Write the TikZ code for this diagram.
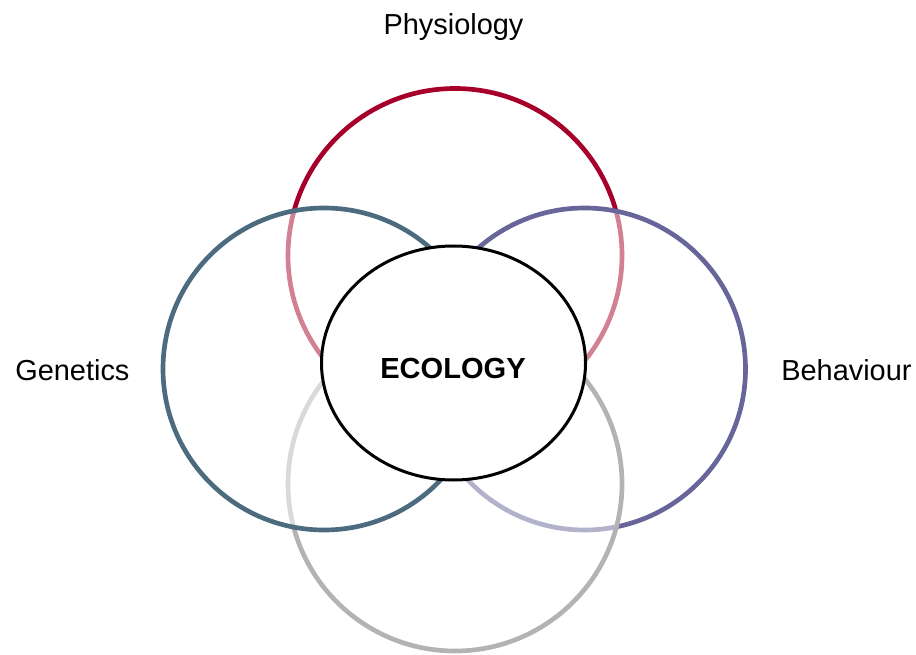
\documentclass[tikz,border=0pt]{standalone}
\usepackage{fontspec}
\setmainfont{Liberation Sans}
\usetikzlibrary{shapes.geometric}
\definecolor{physred}{HTML}{A6002A}
\definecolor{genteal}{HTML}{4D6B7F}
\definecolor{behpurple}{HTML}{67659A}
\definecolor{lowgray}{HTML}{B3B3B3}
\begin{document}
\begin{tikzpicture}[x=0.75pt,y=-0.75pt,
  ring/.style={circle, draw=#1, line width=3.5pt, fill=white, fill opacity=0.5, draw opacity=1, inner sep=0pt},
  label/.style={font=\fontsize{21.7pt}{24pt}\selectfont, anchor=base, inner sep=0pt}]
\useasboundingbox (0,0) rectangle (916,655);
% four overlapping circles, each veiling the ones drawn before it
\node[ring=physred, minimum size=334*0.75pt] (phys) at (455,255.5) {};
\node[ring=behpurple, minimum size=322*0.75pt] (beh) at (584.5,369) {};
\node[ring=lowgray, minimum size=334*0.75pt] (low) at (455,484) {};
\node[ring=genteal, minimum size=322*0.75pt] (gen) at (324,369) {};
% central ellipse
\node[ellipse, draw=black, line width=2.25pt, fill=white, minimum width=264*0.75pt, minimum height=234*0.75pt, inner sep=0pt] (eco) at (453.5,363) {};
\node[label, font=\fontsize{21.8pt}{24pt}\selectfont\bfseries] (ecot) at (453,378.5) {ECOLOGY};
% outer labels
\node[label] (physt) at (453.5,35) {Physiology};
\node[label, anchor=base west] (gent) at (15,380) {Genetics};
\node[label, anchor=base west] (beht) at (781,380) {Behaviour};
\end{tikzpicture}
\end{document}
